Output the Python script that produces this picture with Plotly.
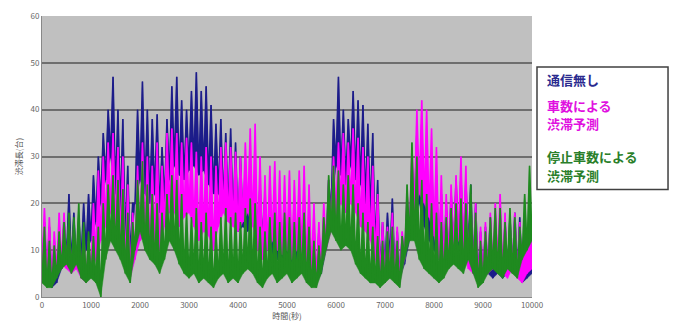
import plotly.graph_objects as go

t_steps = list(range(0, 10001, 100))

navy_lo = [5,4,2,3,6,8,7,6,8,10,12,16,20,25,30,22,18,12,8,20,
           25,22,20,22,18,20,25,28,26,25,27,28,26,27,24,22,22,20,18,16,
           14,15,14,16,14,12,10,9,8,7,8,7,6,7,5,4,3,5,10,18,
           28,26,24,28,25,24,20,18,10,5,6,8,5,4,7,12,18,20,15,12,
           10,8,7,8,10,10,9,10,6,4,4,5,4,5,4,5,6,5,3,4,5]
navy_hi = [16,15,12,13,17,22,18,17,20,22,26,30,35,40,47,40,38,28,20,40,
           46,40,38,39,32,38,45,47,42,40,44,48,44,45,41,37,38,35,36,33,
           30,28,27,25,24,22,21,20,20,18,20,19,18,20,17,15,14,17,25,38,
           47,40,38,44,42,41,37,35,25,16,18,21,14,13,20,28,35,37,32,30,
           26,22,20,22,25,26,25,24,20,14,15,17,16,18,16,17,18,17,15,16,15]

mag_lo = [6,4,3,5,7,6,5,6,4,3,5,8,12,15,18,15,12,6,4,8,
          12,13,10,12,10,15,18,18,15,17,18,15,12,14,13,10,15,18,16,15,
          14,16,18,15,10,8,10,12,10,9,10,8,10,9,6,5,3,6,10,14,
          17,20,18,20,18,15,14,12,8,4,3,5,4,3,8,14,18,22,20,17,
          13,8,6,8,10,12,10,6,5,3,4,5,6,7,5,4,6,4,3,5,6]
mag_hi = [19,17,14,18,18,16,15,16,14,12,20,27,30,33,35,32,30,24,18,28,
          33,30,28,33,28,35,36,35,33,34,33,31,30,32,30,28,32,33,32,31,
          30,33,36,37,30,26,28,29,27,26,27,25,27,28,24,20,16,20,25,30,
          33,35,33,36,34,32,30,28,22,16,15,18,15,14,22,32,40,42,40,36,
          32,26,22,24,26,30,28,22,20,15,16,18,20,22,18,16,18,16,18,20,20]

grn_lo = [3,2,2,4,6,7,5,7,4,3,4,3,0,8,12,10,8,5,3,10,
          14,10,8,7,5,8,12,10,7,5,4,5,3,4,3,2,4,5,3,4,
          3,5,6,5,3,2,4,5,3,4,5,3,4,5,3,2,2,5,10,14,
          12,10,11,10,7,5,4,3,3,2,3,4,3,2,8,12,12,8,6,5,
          4,3,4,6,7,6,5,8,5,2,3,5,6,5,4,6,5,4,8,10,12]
grn_hi = [15,12,11,14,16,18,17,20,16,14,13,15,20,24,26,25,23,18,16,25,
          29,24,22,20,18,22,26,25,22,18,17,19,16,18,15,14,17,19,17,18,
          16,19,21,20,15,14,17,18,16,18,17,16,17,18,15,12,11,17,26,28,
          27,24,26,24,20,18,16,15,13,12,14,15,12,13,24,33,30,25,22,20,
          18,16,17,19,20,21,20,24,18,12,14,17,19,19,16,19,17,15,22,28,26]

y_ticks = [0, 10, 20, 30, 40, 50, 60]
x_ticks = list(range(0, 10001, 1000))
x_tick_text = [str(v) for v in x_ticks]

series = [
    ("通信無し", navy_lo, navy_hi, "#1c1c8a"),
    ("車数による渋滞予測", mag_lo, mag_hi, "#ff00ff"),
    ("停止車数による渋滞予測", grn_lo, grn_hi, "#1f8a1f"),
]

legend_lines = [
    ("通信無し", "#2b2b8f", 75),
    ("車数による", "#e010e0", 101),
    ("渋滞予測", "#e010e0", 120),
    ("停止車数による", "#2a7f2a", 154),
    ("渋滞予測", "#2a7f2a", 173),
]


def zigzag(lo, hi):
    xs, ys = [], []
    for i, t in enumerate(t_steps):
        xs.append(t)
        ys.append(lo[i])
        if i < len(t_steps) - 1:
            xs.append(t + 50)
            ys.append(hi[i])
    return xs, ys


fig = go.Figure()
for name, lo, hi, col in series:
    xs, ys = zigzag(lo, hi)
    # spiky filled band: zigzag on top, low envelope underneath
    fig.add_trace(go.Scatter(x=xs + list(reversed(t_steps)),
                             y=ys + list(reversed(lo)),
                             mode="lines", fill="toself", fillcolor=col,
                             line=dict(color=col, width=0.5),
                             name=name, hoverinfo="skip"))
    fig.add_trace(go.Scatter(x=xs, y=ys, mode="lines", name=name,
                             line=dict(color=col, width=1.6)))

fig.update_layout(
    width=677, height=327,
    margin=dict(l=42, r=145, t=10, b=30),
    paper_bgcolor="white",
    plot_bgcolor="#c0c0c0",
    showlegend=False,
    font=dict(family="Noto Sans CJK JP", size=8, color="#555555"),
    xaxis=dict(range=[0, 10000], tickvals=x_ticks, ticktext=x_tick_text,
               showgrid=False,
               showline=True, linecolor="#888888", linewidth=1,
               ticks="", tickfont=dict(size=8, color="#666666"),
               title=dict(text="時間(秒)", font=dict(size=8, color="#555555"),
                          standoff=2),
               zeroline=False),
    yaxis=dict(range=[0, 60], tickvals=y_ticks, showgrid=True,
               gridcolor="#6e6e6e", gridwidth=1.5,
               showline=True, linecolor="#888888", linewidth=1,
               ticks="", tickfont=dict(size=8, color="#666666"),
               title=dict(text="渋滞長(台)", font=dict(size=8, color="#555555"),
                          standoff=6),
               zeroline=False),
)

# legend box
fig.add_shape(type="rect", xref="paper", yref="paper",
              x0=1.0102, x1=1.2776, y0=0.383, y1=0.8188,
              line=dict(color="#404040", width=1.5), fillcolor="white")

for txt, col, py in legend_lines:
    fig.add_annotation(xref="paper", yref="paper", x=1.0265,
                       y=(297 - py) / 287,
                       xanchor="left", yanchor="middle", showarrow=False,
                       text="<b>" + txt + "</b>",
                       font=dict(family="Noto Sans CJK JP", size=13, color=col))

fig.write_html("out.html")
